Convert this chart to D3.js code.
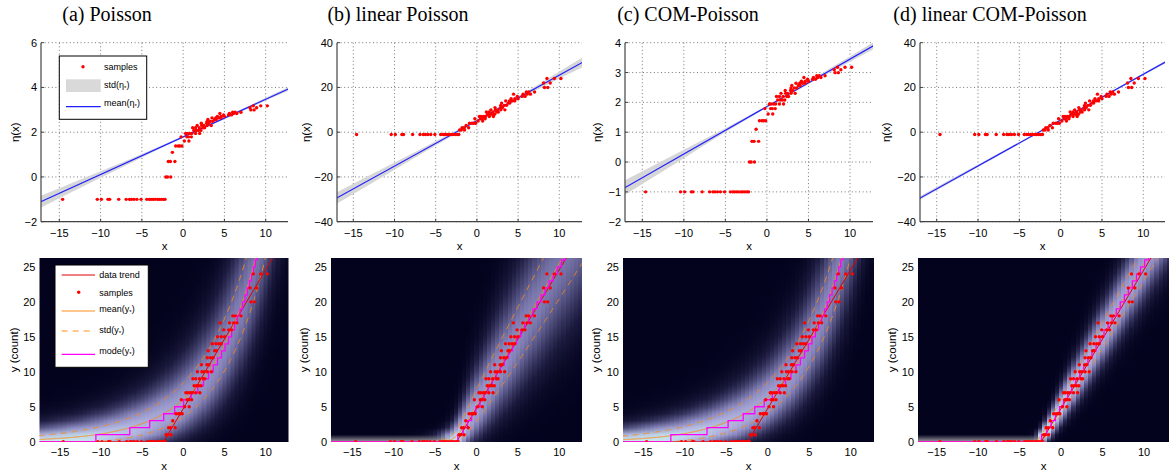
<!DOCTYPE html>
<html>
<head>
<meta charset="utf-8">
<script src="https://cdn.jsdelivr.net/npm/d3@7"></script>
<style>
  body { margin: 0; background: #fff; }
  text { font-family: "Liberation Sans", Arial, sans-serif; }
</style>
</head>
<body>
<svg width="1169" height="475"></svg>
<script>
// observed samples (x, count y), same in every panel
const sampleX = [-14.6, -10.4, -9.9, -9.1, -8.9, -7.8, -6.9, -6.5, -6.25, -5.95, -5.6, -5.1, -4.4, -4.1, -3.9, -3.65, -3.4, -3.1, -2.9, -2.65, -2.4, -2.2,
  -2.1, -1.9, -1.5, -1.8, -1.55, -1.0, -1.3, -0.9, -0.6, -0.4, -0.15, 0.15, 0.7, -0.25, 0.45, 0.65, 1.0,
  0.3, 0.5, 0.8, 1.05, 1.5, 2.0, 1.3, 1.6, 1.85, 2.15, 1.15, 1.5, 1.95, 2.4, 2.6, 1.7, 2.25, 2.5, 2.9, 3.4,
  2.2, 2.85, 3.1, 2.9, 3.3, 3.6, 3.0, 3.8, 4.0, 3.5, 3.95, 4.3, 4.6, 4.15, 4.6, 5.0, 4.9, 5.5, 5.85,
  4.45, 5.6, 6.1, 6.5, 6.0, 6.3, 7.0, 8.2, 8.6, 8.1, 8.9, 8.5, 9.4, 10.2];
const sampleY = [0, 0, 0, 0, 0, 0, 0, 0, 0, 0, 0, 0, 0, 0, 0, 0, 0, 0, 0, 0, 0, 0,
  1, 1, 1, 2, 2, 2, 3, 4, 4, 4, 4, 5, 5, 6, 6, 6, 6,
  7, 7, 7, 7, 7, 7, 8, 8, 8, 8, 9, 9, 9, 9, 9, 10, 10, 10, 10, 10,
  11, 11, 11, 12, 12, 12, 13, 13, 13, 14, 14, 14, 14, 15, 15, 15, 16, 16, 16,
  17, 17, 17, 17, 18, 18, 18, 20, 20, 22, 22, 24, 24, 24];

// data trend (red polyline)
const trendX = [-17.5, -2.4, 11.0];
const trendY = [0, 0, 26.6];

const titles = ['(a) Poisson', '(b) linear Poisson', '(c) COM-Poisson', '(d) linear COM-Poisson'];

// fitted latent function eta(x) = intercept + slope * x, per model
const etaIntercept = [1.79, 5.17, 1.86, 5.4];
const etaSlope = [0.168, 2.033, 0.159, 2.047];
const linkType = ['exp', 'softplus', 'exp', 'softplus'];
const dispersion = [1, 1, 1.3, 4.5];
const etaSampleType = ['log', 'lin', 'log', 'lin'];

// std(eta) band half width at a few x positions
const bandX = [-17.5, -10, -5, 0, 5, 13];
const bandHalf = [
  [0.27, 0.15, 0.08, 0.04, 0.04, 0.09],
  [2.6, 1.6, 0.9, 0.5, 0.7, 2.2],
  [0.25, 0.14, 0.07, 0.03, 0.05, 0.12],
  [0.8, 0.6, 0.4, 0.3, 0.3, 0.6]
];

const xTicks = [-15, -10, -5, 0, 5, 10];
const etaTicks = [[-2, 0, 2, 4, 6], [-40, -20, 0, 20, 40], [-2, -1, 0, 1, 2, 3, 4], [-40, -20, 0, 20, 40]];
const etaDomain = [[-2, 6], [-40, 40], [-2, 4], [-40, 40]];
const countTicks = [0, 5, 10, 15, 20, 25];

// layout
const titleX = [107, 398, 688, 990];
const topRects = [
  {l: 41, r: 288, x15: 59.3, x10: 265.7, lab: 15},
  {l: 337, r: 582, x15: 353.3, x10: 559.3, lab: 306},
  {l: 625, r: 873, x15: 642.3, x10: 850, lab: 597},
  {l: 920, r: 1165, x15: 936.7, x10: 1143.3, lab: 886}
];
const topT = 42.7, topB = 221.7;
const botRects = [
  {l: 39.5, r: 288.5, x15: 60, x10: 265.7, lab: 14},
  {l: 331, r: 582, x15: 352.3, x10: 559.3, lab: 304},
  {l: 623, r: 874, x15: 643.3, x10: 850.7, lab: 596},
  {l: 918, r: 1169, x15: 936.7, x10: 1144, lab: 892}
];
const botT = 258, botB = 441.7, bot25 = 266.9;

const svg = d3.select('svg');
const defs = svg.append('defs');

// ---- model helpers ----
const logFact = [0];
for (let k = 1; k <= 200; k++) logFact[k] = logFact[k - 1] + Math.log(k);
const YMAX = 150;

function eta(i, x) { return etaIntercept[i] + etaSlope[i] * x; }
function rate(i, x) {
  const e = eta(i, x);
  if (linkType[i] === 'exp') return Math.exp(e);
  return e > 30 ? e : Math.log1p(Math.exp(e));
}
function pmf(i, x) {
  const lt = Math.log(Math.max(rate(i, x), 1e-300));
  const nu = dispersion[i];
  const lw = [];
  let mx = -Infinity;
  for (let y = 0; y <= YMAX; y++) {
    lw[y] = nu * (y * lt - logFact[y]);
    if (lw[y] > mx) mx = lw[y];
  }
  let s = 0;
  const p = lw.map(v => { const e = Math.exp(v - mx); s += e; return e; });
  return p.map(v => v / s);
}
function stats(i, x) {
  const p = pmf(i, x);
  let m = 0, m2 = 0, mode = 0;
  p.forEach((v, y) => { m += v * y; m2 += v * y * y; if (v > p[mode]) mode = y; });
  return {x: x, mean: m, sd: Math.sqrt(Math.max(m2 - m * m, 0)), mode: mode};
}

const cmap = d3.scaleLinear()
  .domain([0, 0.12, 0.25, 0.4, 0.55, 0.7, 0.82, 0.92, 1.0])
  .range(['#03031e', '#1d1c40', '#4a4876', '#8886bc', '#aeaedc', '#c4e0ec', '#c8f2ea', '#d8f2ee', '#9a9a9e'])
  .interpolate(d3.interpolateRgb)
  .clamp(true);

const fineX = d3.range(-17.6, 13.2, 0.02);

// ---- titles ----
svg.selectAll('.title').data(titles).enter().append('text')
  .attr('x', (d, i) => titleX[i]).attr('y', 21)
  .attr('text-anchor', 'middle')
  .style('font-family', '"Liberation Serif", "Times New Roman", serif')
  .attr('font-size', 20).text(d => d);

// ---- top row ----
topRects.forEach((R, i) => {
  const x = d3.scaleLinear().domain([-15, 10]).range([R.x15, R.x10]);
  const y = d3.scaleLinear().domain(etaDomain[i]).range([topB, topT]);
  const g = svg.append('g');
  defs.append('clipPath').attr('id', 'ct' + i).append('rect')
    .attr('x', R.l).attr('y', topT).attr('width', R.r - R.l).attr('height', topB - topT);

  g.selectAll('.gx').data(xTicks).enter().append('line')
    .attr('x1', d => x(d)).attr('x2', d => x(d)).attr('y1', topT).attr('y2', topB)
    .attr('stroke', '#555').attr('stroke-width', 0.8).attr('stroke-dasharray', '1,2.6');
  g.selectAll('.gy').data(etaTicks[i]).enter().append('line')
    .attr('x1', R.l).attr('x2', R.r).attr('y1', d => y(d)).attr('y2', d => y(d))
    .attr('stroke', '#555').attr('stroke-width', 0.8).attr('stroke-dasharray', '1,2.6');

  const plot = g.append('g').attr('clip-path', 'url(#ct' + i + ')');
  const band = bandX.map((bx, j) => ({x: bx, m: eta(i, bx), h: bandHalf[i][j]}));
  plot.append('path').datum(band)
    .attr('d', d3.area().x(d => x(d.x)).y0(d => y(d.m - d.h)).y1(d => y(d.m + d.h)).curve(d3.curveMonotoneX))
    .attr('fill', '#d6d6d6');
  plot.append('path').datum([-17.6, 13.2])
    .attr('d', d3.line().x(d => x(d)).y(d => y(eta(i, d))))
    .attr('stroke', '#1f1fff').attr('stroke-width', 1.2).attr('fill', 'none');

  const pts = sampleX.map((sx, k) => {
    const c = sampleY[k];
    const v = c > 0 ? (etaSampleType[i] === 'log' ? Math.log(c) : c) : -1;
    return [sx, v];
  });
  plot.selectAll('.pt').data(pts).enter().append('circle')
    .attr('cx', d => x(d[0])).attr('cy', d => y(d[1])).attr('r', 1.7).attr('fill', '#ff0000');

  // spines and ticks
  g.append('line').attr('x1', R.l).attr('x2', R.l).attr('y1', topT).attr('y2', topB)
    .attr('stroke', '#444').attr('stroke-width', 1.2);
  g.append('line').attr('x1', R.l).attr('x2', R.r).attr('y1', topB).attr('y2', topB)
    .attr('stroke', '#444').attr('stroke-width', 1.2);
  g.selectAll('.tx').data(xTicks).enter().append('line')
    .attr('x1', d => x(d)).attr('x2', d => x(d)).attr('y1', topB).attr('y2', topB - 3)
    .attr('stroke', '#444');
  g.selectAll('.ty').data(etaTicks[i]).enter().append('line')
    .attr('x1', R.l).attr('x2', R.l + 3).attr('y1', d => y(d)).attr('y2', d => y(d))
    .attr('stroke', '#444');
  g.selectAll('.lx').data(xTicks).enter().append('text')
    .attr('x', d => x(d)).attr('y', topB + 15).attr('text-anchor', 'middle')
    .attr('font-size', 11).text(d => String(d).replace('-', '\u2212'));
  g.selectAll('.ly').data(etaTicks[i]).enter().append('text')
    .attr('x', R.l - 4).attr('y', d => y(d) + 4).attr('text-anchor', 'end')
    .attr('font-size', 11).text(d => String(d).replace('-', '\u2212'));
  g.append('text').attr('x', (R.l + R.r) / 2).attr('y', 250).attr('text-anchor', 'middle')
    .attr('font-size', 11.5).text('x');
  g.append('text').attr('transform', 'translate(' + (R.lab + 4) + ',' + ((topT + topB) / 2) + ') rotate(-90)')
    .attr('text-anchor', 'middle').attr('font-size', 11.5).text('\u03b7(x)');
});

// ---- bottom row ----
botRects.forEach((R, i) => {
  const x = d3.scaleLinear().domain([-15, 10]).range([R.x15, R.x10]);
  const y = d3.scaleLinear().domain([0, 25]).range([botB, bot25]);
  const g = svg.append('g');
  defs.append('clipPath').attr('id', 'cb' + i).append('rect')
    .attr('x', R.l).attr('y', botT).attr('width', R.r - R.l).attr('height', botB - botT);

  // heat map of p(y*|x)
  const W = Math.round(R.r - R.l), H = Math.round(botB - botT);
  const cv = document.createElement('canvas');
  cv.width = W; cv.height = H;
  const ctx = cv.getContext('2d');
  const img = ctx.createImageData(W, H);
  const cache = {};
  for (let px = 0; px < W; px++) {
    const xv = x.invert(R.l + px + 0.5);
    const xg = Math.round(xv * 2) / 2;
    if (!cache[xg]) cache[xg] = pmf(i, xg).slice(0, 40).map(v => d3.rgb(cmap(Math.pow(v, 0.4))));
    const cols = cache[xg];
    for (let py = 0; py < H; py++) {
      const yv = Math.max(y.invert(botT + py + 0.5), 0);
      const k = Math.floor(yv), f = yv - k;
      const c0 = cols[k], c1 = cols[k + 1];
      const o = (py * W + px) * 4;
      img.data[o] = c0.r + (c1.r - c0.r) * f;
      img.data[o + 1] = c0.g + (c1.g - c0.g) * f;
      img.data[o + 2] = c0.b + (c1.b - c0.b) * f;
      img.data[o + 3] = 255;
    }
  }
  ctx.putImageData(img, 0, 0);
  g.append('image').attr('href', cv.toDataURL()).attr('x', R.l).attr('y', botT)
    .attr('width', W).attr('height', H).attr('preserveAspectRatio', 'none');

  const plot = g.append('g').attr('clip-path', 'url(#cb' + i + ')');
  const st = fineX.map(fx => stats(i, fx));
  const ln = d3.line().x(d => x(d[0])).y(d => y(d[1]));
  plot.append('path').datum(st.map(d => [d.x, d.mean + d.sd])).attr('d', ln)
    .attr('fill', 'none').attr('stroke', '#ff8c1a').attr('stroke-width', 1).attr('stroke-dasharray', '6,5');
  plot.append('path').datum(st.map(d => [d.x, d.mean - d.sd])).attr('d', ln)
    .attr('fill', 'none').attr('stroke', '#ff8c1a').attr('stroke-width', 1).attr('stroke-dasharray', '6,5');
  plot.append('path').datum(trendX.map((tx, k) => [tx, trendY[k]])).attr('d', ln)
    .attr('fill', 'none').attr('stroke', '#e00000').attr('stroke-width', 1);
  plot.append('path').datum(st.map(d => [d.x, d.mean])).attr('d', ln)
    .attr('fill', 'none').attr('stroke', '#ff8c1a').attr('stroke-width', 1);
  plot.append('path').datum(st.map(d => [d.x, d.mode])).attr('d', ln.curve(d3.curveStepAfter))
    .attr('fill', 'none').attr('stroke', '#ff00ff').attr('stroke-width', 1.3);
  plot.selectAll('.pt').data(sampleX.map((sx, k) => [sx, sampleY[k]])).enter().append('circle')
    .attr('cx', d => x(d[0])).attr('cy', d => y(d[1])).attr('r', 1.7).attr('fill', '#ff0000');

  g.selectAll('.lx').data(xTicks).enter().append('text')
    .attr('x', d => x(d)).attr('y', botB + 14).attr('text-anchor', 'middle')
    .attr('font-size', 11).text(d => String(d).replace('-', '\u2212'));
  g.selectAll('.ly').data(countTicks).enter().append('text')
    .attr('x', R.l - 4).attr('y', d => y(d) + 4).attr('text-anchor', 'end')
    .attr('font-size', 11).text(d => d);
  g.append('text').attr('x', (R.l + R.r) / 2).attr('y', 470).attr('text-anchor', 'middle')
    .attr('font-size', 11.5).text('x');
  g.append('text').attr('transform', 'translate(' + (R.lab + 4) + ',' + ((botT + botB) / 2) + ') rotate(-90)')
    .attr('text-anchor', 'middle').attr('font-size', 11.5).text('y (count)');
});

// ---- legends ----
function legendLabel(g, x0, yy, base, sub) {
  const t = g.append('text').attr('x', x0).attr('y', yy + 3).attr('font-size', 9);
  t.append('tspan').text(base + '(');
  t.append('tspan').text(sub).append('tspan').attr('dy', 2).attr('font-size', 6).text('*');
  t.append('tspan').attr('dy', -2).text(')');
}
const lt = svg.append('g');
lt.append('rect').attr('x', 59.3).attr('y', 56).attr('width', 87.4).attr('height', 63.3)
  .attr('fill', '#fff').attr('stroke', '#000').attr('stroke-width', 1);
lt.append('circle').attr('cx', 83).attr('cy', 66.7).attr('r', 1.7).attr('fill', '#ff0000');
lt.append('text').attr('x', 104).attr('y', 70).attr('font-size', 9).text('samples');
lt.append('rect').attr('x', 66).attr('y', 79.3).attr('width', 34.7).attr('height', 12.7).attr('fill', '#d9d9d9');
legendLabel(lt, 104, 85, 'std', '\u03b7');
lt.append('line').attr('x1', 66).attr('x2', 100.7).attr('y1', 106.7).attr('y2', 106.7)
  .attr('stroke', '#1f1fff').attr('stroke-width', 1.2);
legendLabel(lt, 104, 103, 'mean', '\u03b7');

const lb = svg.append('g');
lb.append('rect').attr('x', 55).attr('y', 265).attr('width', 93.3).attr('height', 102.3)
  .attr('fill', '#fff').attr('stroke', '#000').attr('stroke-width', 1);
lb.append('line').attr('x1', 61.7).attr('x2', 95).attr('y1', 275).attr('y2', 275)
  .attr('stroke', '#e00000').attr('stroke-width', 1);
lb.append('text').attr('x', 99.3).attr('y', 278).attr('font-size', 9).text('data trend');
lb.append('circle').attr('cx', 78.7).attr('cy', 292.3).attr('r', 1.7).attr('fill', '#ff0000');
lb.append('text').attr('x', 99.3).attr('y', 295.5).attr('font-size', 9).text('samples');
lb.append('line').attr('x1', 61.7).attr('x2', 95).attr('y1', 311).attr('y2', 311)
  .attr('stroke', '#ff8c1a').attr('stroke-width', 1);
legendLabel(lb, 99.3, 309, 'mean', 'y');
lb.append('line').attr('x1', 61.7).attr('x2', 95).attr('y1', 331).attr('y2', 331)
  .attr('stroke', '#ff8c1a').attr('stroke-width', 1).attr('stroke-dasharray', '6,5');
legendLabel(lb, 99.3, 330, 'std', 'y');
lb.append('line').attr('x1', 61.7).attr('x2', 95).attr('y1', 354.3).attr('y2', 354.3)
  .attr('stroke', '#ff00ff').attr('stroke-width', 1.3);
legendLabel(lb, 99.3, 351, 'mode', 'y');
</script>
</body>
</html>
